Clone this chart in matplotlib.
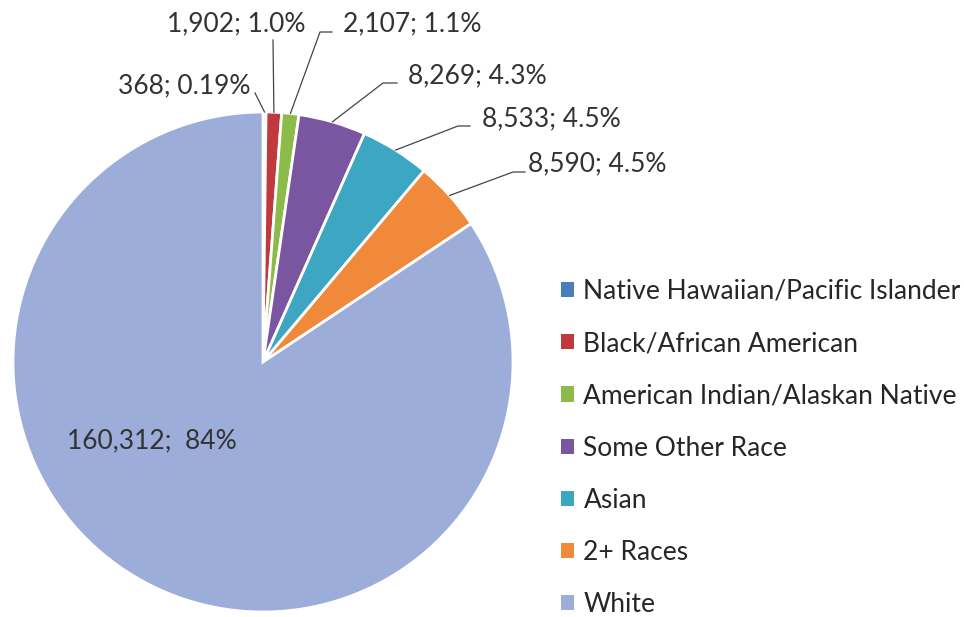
import numpy as np
import matplotlib
matplotlib.use("Agg")
import matplotlib.pyplot as plt
from matplotlib.lines import Line2D

# Population by race
categories = [
    "Native Hawaiian/Pacific Islander",
    "Black/African American",
    "American Indian/Alaskan Native",
    "Some Other Race",
    "Asian",
    "2+ Races",
    "White",
]
counts = [368, 1902, 2107, 8269, 8533, 8590, 160312]
pct_labels = ["368; 0.19%", "1,902; 1.0%", "2,107; 1.1%", "8,269; 4.3%",
              "8,533; 4.5%", "8,590; 4.5%", "160,312;  84%"]
colors = ["#4A7EBB", "#C0393C", "#8DBB4A", "#7A55A0", "#3DA6C2", "#F08A3A", "#9CADD9"]

W, H = 964, 617
fig = plt.figure(figsize=(W / 100, H / 100), dpi=100)
fig.patch.set_facecolor("white")

# pie axes: centre (263, 362) px, radius 250 px
cx, cy, r = 263, 362, 250
ax = fig.add_axes([(cx - r) / W, (H - cy - r) / H, 2 * r / W, 2 * r / H])
wedges, _ = ax.pie(counts, colors=colors, startangle=90, counterclock=False,
                   radius=1.0, wedgeprops=dict(edgecolor="white", linewidth=2.0))
ax.set_xlim(-1, 1)
ax.set_ylim(-1, 1)
ax.set_aspect("equal")
ax.axis("off")

FONT = "Lato"
TXT = "#333333"
fs = 19

# label placement (image pixel coordinates, alignment) and leader-line elbows
label_pos = [(250, 86, "right"), (236, 24, "center"), (343, 24, "left"),
             (408, 76, "left"), (482, 119, "left"), (528, 164, "left")]
elbows = [[(255, 93)], [(273, 40)], [(332, 32), (320, 32)],
          [(397, 83), (383, 83)], [(470, 126), (458, 126)], [(525, 172), (513, 172)]]

total = float(sum(counts))
cum = np.cumsum([0] + counts)
for i in range(6):
    mid = (cum[i] + cum[i + 1]) / 2 / total
    ang = np.deg2rad(90 - 360 * mid)
    ax_pt = ax.transData.transform((np.cos(ang), np.sin(ang)))
    pts = [(x, H - y) for x, y in elbows[i]] + [tuple(ax_pt)]
    xs = [p[0] / W for p in pts]
    ys = [p[1] / H for p in pts]
    fig.add_artist(Line2D(xs, ys, transform=fig.transFigure, color="#444444", lw=0.9))
    tx, ty, ha = label_pos[i]
    fig.text(tx / W, (H - ty) / H, pct_labels[i], ha=ha, va="center",
             fontsize=fs, family=FONT, color=TXT)

fig.text(67 / W, (H - 441) / H, pct_labels[6], ha="left", va="center",
         fontsize=fs, family=FONT, color=TXT)

leg = fig.legend(wedges, categories, loc="upper left",
                 bbox_to_anchor=(561 / W, (H - 279) / H), bbox_transform=fig.transFigure,
                 frameon=False, prop=dict(family=FONT, size=fs),
                 handlelength=0.5, handleheight=0.5, handletextpad=0.35,
                 labelspacing=1.03, borderpad=0, borderaxespad=0)
for t in leg.get_texts():
    t.set_color("#262626")
for h in leg.legend_handles:
    h.set_edgecolor("none")

fig.savefig("out.png", dpi=100)
